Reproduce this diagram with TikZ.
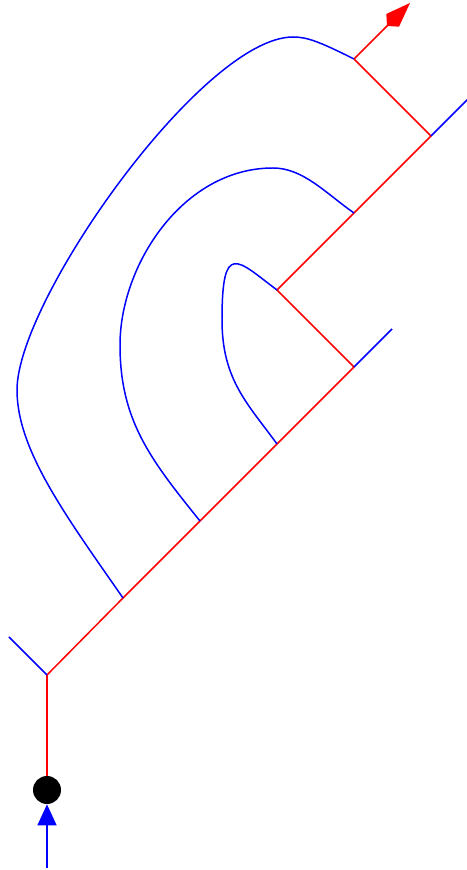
\documentclass[tikz,border=0pt]{standalone}
\usepackage{tikz}
\usetikzlibrary{arrows.meta}

\begin{document}
\begin{tikzpicture}[
        x=1cm,
        y=1cm,
        wire/.style={draw=blue, line width=0.85pt},
        prop/.style={draw=red, line width=0.85pt},
        vertex/.style={circle, fill=black, draw=none, inner sep=0pt, minimum size=0.56cm}
    ]
        \useasboundingbox (0,0) rectangle (9.32,17.40);

        % spine points
        \coordinate (a)  at (0.94,3.90);
        \coordinate (b1) at (2.46,5.44);
        \coordinate (b2) at (4.00,6.98);
        \coordinate (b3) at (5.54,8.52);
        \coordinate (b4) at (7.08,10.06);
        \coordinate (c1) at (5.54,11.60);
        \coordinate (c2) at (7.08,13.14);
        \coordinate (c3) at (8.62,14.68);
        \coordinate (d)  at (7.08,16.22);
        \coordinate (out) at (8.20,17.34);
        \coordinate (in) at (0.94,0.04);

        % loose ends
        \coordinate (sa) at (0.18,4.66);
        \coordinate (sb) at (7.84,10.82);
        \coordinate (sc) at (9.40,15.46);

        % turning points of the loops
        \coordinate (l1) at (0.34,9.60);
        \coordinate (t1) at (5.86,16.66);
        \coordinate (l2) at (2.40,10.50);
        \coordinate (t2) at (5.46,14.04);
        \coordinate (l3) at (4.44,11.00);

        \node[vertex] (v) at (0.94,1.60) {};

        \draw[wire, -{Triangle[length=0.42cm, width=0.38cm]}] (in) -- (v);
        \draw[prop] (v) -- (a);
        \draw[prop] (a) -- (b1) -- (b2) -- (b3) -- (b4) -- (c1) -- (c2) -- (c3) -- (d);
        \draw[prop, -{Kite[length=0.65cm, width=0.36cm, inset=0.16cm]}] (d) -- (out);

        \foreach \p/\q in {a/sa, b4/sb, c3/sc} {
            \draw[wire] (\p) -- (\q);
        }

        \draw[wire] (b1) .. controls +(-1.14,1.64) and +(0,-1.2) .. (l1)
                         .. controls +(0,1.8) and +(-1.8,0) .. (t1)
                         .. controls +(0.28,0) and +(-0.70,0.35) .. (d);
        \draw[wire] (b2) .. controls +(-1.0,1.24) and +(0,-1.5) .. (l2)
                         .. controls +(0,1.6) and +(-1.8,0) .. (t2)
                         .. controls +(0.6,0) and +(-0.57,0.40) .. (c2);
        \draw[wire] (b3) .. controls +(-0.58,0.80) and +(0,-1.2) .. (l3)
                         .. controls +(0,1.6) and +(-0.8,0.6) .. (c1);
    \end{tikzpicture}
\end{document}
